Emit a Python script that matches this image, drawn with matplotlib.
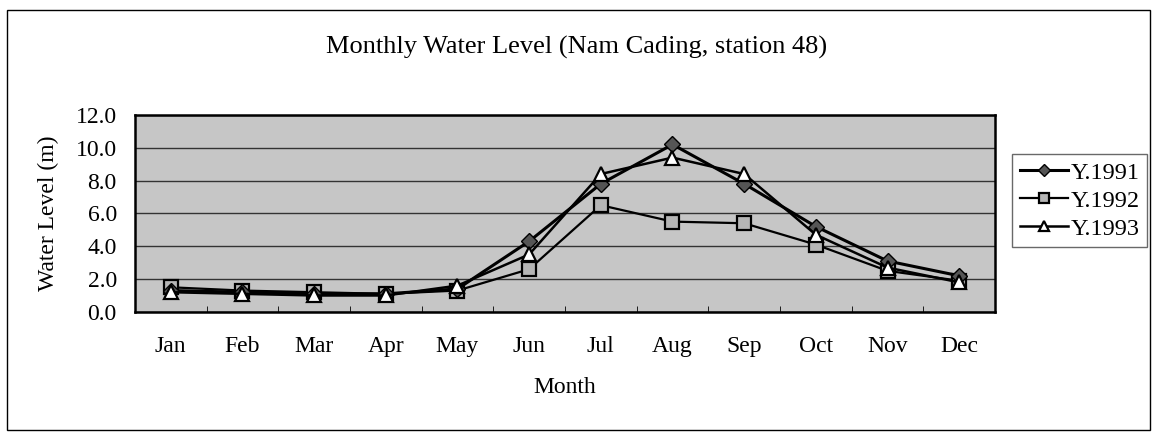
import matplotlib.pyplot as plt
from matplotlib.patches import Rectangle
import numpy as np

months = ["Jan", "Feb", "Mar", "Apr", "May", "Jun", "Jul", "Aug", "Sep", "Oct", "Nov", "Dec"]
y1991 = [1.3, 1.2, 1.1, 1.1, 1.4, 4.3, 7.8, 10.2, 7.8, 5.2, 3.1, 2.2]
y1992 = [1.5, 1.3, 1.2, 1.1, 1.3, 2.6, 6.5, 5.5, 5.4, 4.1, 2.5, 1.9]
y1993 = [1.2, 1.1, 1.0, 1.0, 1.6, 3.5, 8.4, 9.4, 8.4, 4.7, 2.7, 1.8]
yticks = [0, 2, 4, 6, 8, 10, 12]

plt.rcParams['font.family'] = ['Liberation Serif', 'DejaVu Serif']

fig = plt.figure(figsize=(11.53, 4.32), dpi=100)
ax = fig.add_axes([0.117, 0.278, 0.746, 0.456])
x = np.arange(len(months))

ax.set_facecolor("#c6c6c6")
ax.plot(x, y1991, "-D", color="black", lw=2.2, markersize=8,
        markerfacecolor="#555555", markeredgecolor="black", label="Y.1991", zorder=4)
ax.plot(x, y1992, "-s", color="black", lw=1.6, markersize=10,
        markerfacecolor="#b5b5b5", markeredgecolor="black", markeredgewidth=1.6,
        label="Y.1992", zorder=3)
ax.plot(x, y1993, "-^", color="black", lw=1.8, markersize=10,
        markerfacecolor="white", markeredgecolor="black", markeredgewidth=1.6,
        label="Y.1993", zorder=5)

ax.set_xlim(-0.5, len(months) - 0.5)
ax.set_ylim(0, 12)
ax.set_yticks(yticks)
ax.set_yticklabels([f"{v:.1f}" for v in yticks], fontsize=17)
ax.set_xticks(x)
ax.set_xticklabels(months, fontsize=17)
ax.set_xticks(np.arange(-0.5, len(months)), minor=True)
ax.tick_params(axis="x", which="major", length=0, pad=17)
ax.tick_params(axis="x", which="minor", length=4, direction="in")
ax.tick_params(axis="y", length=0, pad=13)
ax.yaxis.grid(True, color="#333333", lw=1)
ax.set_axisbelow(True)
for s in ax.spines.values():
    s.set_linewidth(1.8)

ax.set_xlabel("Month", fontsize=17, labelpad=15)
ax.set_ylabel("Water Level (m)", fontsize=17, labelpad=12)
fig.text(0.5, 0.89, "Monthly Water Level (Nam Cading, station 48)", fontsize=19,
         ha="center", va="center")

leg = ax.legend(loc="upper left", bbox_to_anchor=(1.02, 0.80), fontsize=17.5,
                frameon=True, fancybox=False, edgecolor="#444444", borderpad=0.3,
                borderaxespad=0, handlelength=2.0, handletextpad=0.1,
                labelspacing=0.25, markerscale=0.75)
leg.get_frame().set_linewidth(1)

fig.patches.append(Rectangle((0.006, 0.005), 0.991, 0.972, transform=fig.transFigure,
                             fill=False, edgecolor="black", lw=1))

fig.savefig("out.png", dpi=100)
